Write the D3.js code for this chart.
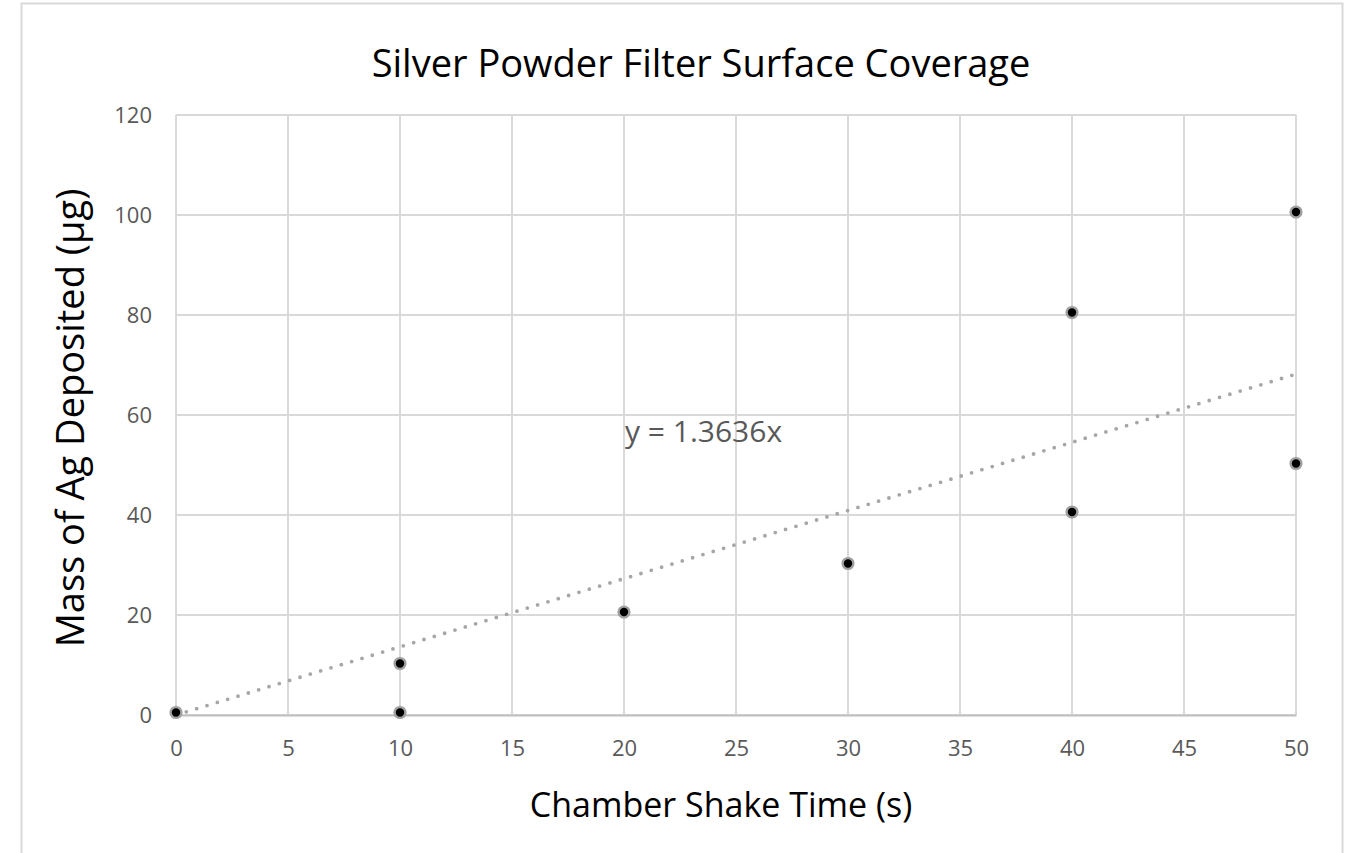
<!DOCTYPE html>
<html>
<head>
<meta charset="utf-8">
<script src="https://cdn.jsdelivr.net/npm/d3@7"></script>
<style>
  body { margin: 0; background: #fff; }
  text { font-family: "Open Sans", sans-serif; }
</style>
</head>
<body>
<div id="chart"></div>
<script>
// Scatter data
const shakeTime = [0, 10, 10, 20, 30, 40, 40, 50, 50];
const massAg = [0.5, 0.5, 10.3, 20.6, 30.3, 40.6, 80.5, 50.3, 100.6];
const trendSlope = 1.3636;
const xTicks = [0, 5, 10, 15, 20, 25, 30, 35, 40, 45, 50];
const yTicks = [0, 20, 40, 60, 80, 100, 120];

const width = 1353;
const height = 853;
const margin = { top: 115, right: 57, bottom: 138, left: 176 };

const svg = d3.select("#chart").append("svg")
    .attr("width", width)
    .attr("height", height);

// chart frame
svg.append("rect")
    .attr("x", 21.5)
    .attr("y", 3.5)
    .attr("width", 1321)
    .attr("height", 900)
    .attr("fill", "none")
    .attr("stroke", "#d9d9d9")
    .attr("stroke-width", 2);

const x = d3.scaleLinear()
    .domain([0, 50])
    .range([margin.left, width - margin.right]);

const y = d3.scaleLinear()
    .domain([0, 120])
    .range([height - margin.bottom, margin.top]);

// gridlines
svg.append("g")
    .selectAll("line.vgrid")
    .data(xTicks)
    .enter()
    .append("line")
    .attr("class", "vgrid")
    .attr("x1", d => x(d))
    .attr("x2", d => x(d))
    .attr("y1", y(120))
    .attr("y2", y(0))
    .attr("stroke", "#d9d9d9")
    .attr("stroke-width", 2);

svg.append("g")
    .selectAll("line.hgrid")
    .data(yTicks)
    .enter()
    .append("line")
    .attr("class", "hgrid")
    .attr("x1", x(0))
    .attr("x2", x(50))
    .attr("y1", d => y(d))
    .attr("y2", d => y(d))
    .attr("stroke", "#d9d9d9")
    .attr("stroke-width", 2);

// axes
const xAxis = svg.append("g")
    .attr("transform", `translate(0,${y(0)})`)
    .call(d3.axisBottom(x).tickValues(xTicks).tickSize(0).tickPadding(25));
xAxis.select(".domain").attr("stroke", "#bfbfbf").attr("stroke-width", 2);

const yAxis = svg.append("g")
    .attr("transform", `translate(${x(0)},0)`)
    .call(d3.axisLeft(y).tickValues(yTicks).tickSize(0).tickPadding(24));
yAxis.select(".domain").remove();

svg.selectAll(".tick text")
    .style("font-size", "22px")
    .attr("fill", "#595959");

// trendline
svg.append("line")
    .attr("x1", x(0))
    .attr("y1", y(0))
    .attr("x2", x(50))
    .attr("y2", y(trendSlope * 50))
    .attr("stroke", "#a6a6a6")
    .attr("stroke-width", 3.8)
    .attr("stroke-linecap", "round")
    .attr("stroke-dasharray", "0 10.8");

// points
svg.append("g")
    .selectAll("circle")
    .data(shakeTime.map((t, i) => ({ t, m: massAg[i] })))
    .enter()
    .append("circle")
    .attr("cx", d => x(d.t))
    .attr("cy", d => y(d.m))
    .attr("r", 5.4)
    .attr("fill", "#000")
    .attr("stroke", "#a0a0a0")
    .attr("stroke-width", 2.4);

// equation label
svg.append("text")
    .attr("x", 625)
    .attr("y", 442)
    .style("font-size", "30px")
    .attr("fill", "#595959")
    .text("y = 1.3636x");

// titles
svg.append("text")
    .attr("x", 701)
    .attr("y", 77)
    .attr("text-anchor", "middle")
    .style("font-size", "38px")
    .attr("fill", "#000")
    .text("Silver Powder Filter Surface Coverage");

svg.append("text")
    .attr("x", 721)
    .attr("y", 817)
    .attr("text-anchor", "middle")
    .style("font-size", "34px")
    .attr("fill", "#000")
    .text("Chamber Shake Time (s)");

svg.append("text")
    .attr("transform", `translate(84,418) rotate(-90)`)
    .attr("text-anchor", "middle")
    .style("font-size", "38px")
    .attr("fill", "#000")
    .text("Mass of Ag Deposited (µg)");
</script>
</body>
</html>
